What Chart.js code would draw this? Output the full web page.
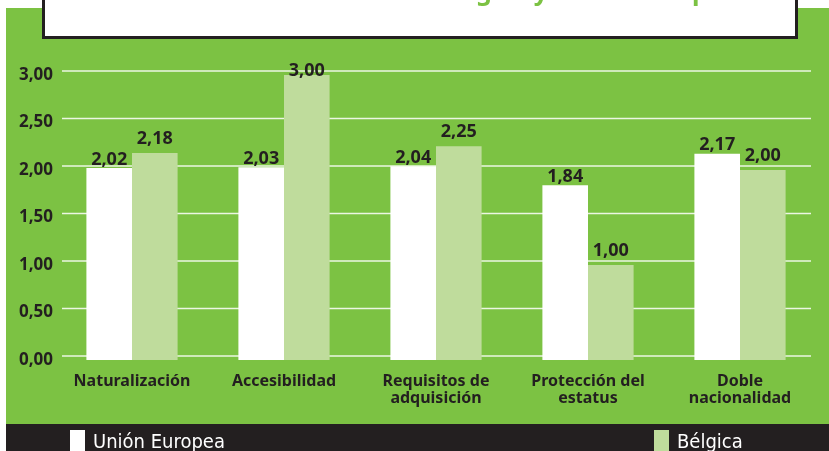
<!DOCTYPE html>
<html>
<head>
<meta charset="utf-8">
<script src="https://cdn.jsdelivr.net/npm/chart.js@4.4.4/dist/chart.umd.min.js"></script>
<style>
  html, body { margin: 0; padding: 0; background: #ffffff; }
  #wrap { position: relative; width: 829px; height: 451px; overflow: hidden; }
  #green { position: absolute; left: 6px; top: 8px; width: 823px; height: 416px; background: #7cc243; }
  #strip { position: absolute; left: 6px; top: 424px; width: 823px; height: 27px; background: #231f20; }
  #titlebox { position: absolute; left: 42px; top: -10px; width: 750px; height: 43px;
              background: #ffffff; border: 3px solid #231f20; }
  #chart { position: absolute; left: 0; top: 0; }
  .leg { position: absolute; top: 424px; height: 27px; color: #ffffff;
         font-family: "Liberation Sans Narrow", "DejaVu Sans Condensed", sans-serif;
         font-size: 20px; line-height: 27px; white-space: nowrap; }
  .leg span.box { position: absolute; left: 0; top: 6px; width: 15px; height: 21px; }
  .leg span.txt { position: absolute; left: 23px; top: 4px; }
</style>
</head>
<body>
<div id="wrap">
  <div id="green"></div>
  <div id="strip"></div>
  <div id="titlebox"></div>
  <canvas id="chart" width="829" height="451"></canvas>
  <div id="legend"></div>
</div>
<script>
const titleText = 'Acceso a la nacionalidad: Bélgica y Unión Europea';
const categories = ['Naturalización', 'Accesibilidad', ['Requisitos de', 'adquisición'], ['Protección del', 'estatus'], ['Doble', 'nacionalidad']];
const seriesNames = ['Unión Europea', 'Bélgica'];
const ueValues = [2.02, 2.03, 2.04, 1.84, 2.17];
const belgicaValues = [2.18, 3.00, 2.25, 1.00, 2.00];
const yTicks = [0, 0.5, 1, 1.5, 2, 2.5, 3];

const DARK = '#231f20';
const seriesColors = ['#ffffff', '#bfdc9c'];
const legendX = [70, 654];

function fmt(v) {
    return v.toFixed(2).replace('.', ',');
}

// white grid lines, drawn a little above the value frame of the bars
const gridPlugin = {
    id: 'gridLines',
    beforeDatasetsDraw(chart) {
        const ctx = chart.ctx;
        const y = chart.scales.y;
        ctx.save();
        ctx.strokeStyle = 'rgba(255,255,255,0.85)';
        ctx.lineWidth = 1.5;
        yTicks.forEach(v => {
            const py = y.getPixelForValue(v) - 4;
            ctx.beginPath();
            ctx.moveTo(62, py);
            ctx.lineTo(811, py);
            ctx.stroke();
        });
        ctx.restore();
    }
};

const valueLabels = {
    id: 'valueLabels',
    afterDatasetsDraw(chart) {
        const ctx = chart.ctx;
        const gaps = [3.5, 9];
        ctx.save();
        ctx.font = 'bold 18px "Noto Sans", sans-serif';
        ctx.fillStyle = DARK;
        ctx.textAlign = 'center';
        ctx.textBaseline = 'alphabetic';
        chart.data.datasets.forEach((ds, i) => {
            chart.getDatasetMeta(i).data.forEach((bar, j) => {
                const yy = Math.max(bar.y - gaps[i], 76);
                ctx.fillText(fmt(ds.data[j]), bar.x, yy);
            });
        });
        ctx.restore();
    }
};

// title of the figure, pushed up so that only its lower part shows
const titlePlugin = {
    id: 'cutTitle',
    afterDraw(chart) {
        const ctx = chart.ctx;
        ctx.save();
        ctx.font = 'bold 25px "Noto Sans", sans-serif';
        ctx.fillStyle = '#7cc243';
        ctx.textBaseline = 'alphabetic';
        const prefix = titleText.slice(0, titleText.indexOf('g'));
        const x0 = 476 - ctx.measureText(prefix).width;
        ctx.fillText(titleText, x0, 0);
        ctx.restore();
    }
};

new Chart(document.getElementById('chart'), {
    type: 'bar',
    data: {
        labels: categories,
        datasets: [
            {
                label: seriesNames[0],
                data: ueValues,
                backgroundColor: seriesColors[0],
                categoryPercentage: 0.6,
                barPercentage: 1.0,
                clip: false
            },
            {
                label: seriesNames[1],
                data: belgicaValues,
                backgroundColor: seriesColors[1],
                categoryPercentage: 0.6,
                barPercentage: 1.0,
                clip: false
            }
        ]
    },
    options: {
        responsive: false,
        animation: false,
        layout: { padding: { left: 0, right: 13, top: 75, bottom: 0 } },
        plugins: {
            legend: { display: false },
            tooltip: { enabled: false },
            title: { display: false }
        },
        scales: {
            x: {
                grid: { display: false, drawTicks: false },
                border: { display: false },
                ticks: {
                    color: DARK,
                    padding: 12,
                    maxRotation: 0,
                    autoSkip: false,
                    font: { family: '"Noto Sans", sans-serif', size: 16, weight: 'bold', lineHeight: 1.12 }
                },
                afterFit(scale) { scale.height = 91; }
            },
            y: {
                min: 0,
                max: 3,
                grid: { display: false, drawTicks: false },
                border: { display: false },
                afterBuildTicks(scale) { scale.ticks = yTicks.map(v => ({ value: v })); },
                ticks: {
                    color: DARK,
                    padding: 3,
                    font: { family: '"Noto Sans", sans-serif', size: 17, weight: 'bold' },
                    callback: v => fmt(v)
                },
                afterFit(scale) { scale.width = 56; }
            }
        }
    },
    plugins: [gridPlugin, valueLabels, titlePlugin]
});

// legend in the dark strip
const legendEl = document.getElementById('legend');
seriesNames.forEach((name, i) => {
    const item = document.createElement('div');
    item.className = 'leg';
    item.style.left = legendX[i] + 'px';
    item.innerHTML = '<span class="box" style="background:' + seriesColors[i] + '"></span><span class="txt">' + name + '</span>';
    legendEl.appendChild(item);
});
</script>
</body>
</html>
